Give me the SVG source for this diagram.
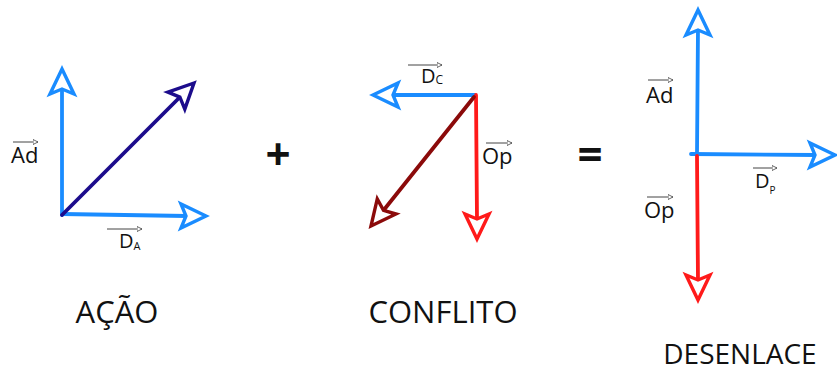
<svg xmlns="http://www.w3.org/2000/svg" width="837" height="372" viewBox="0 0 837 372">
<style>
.vec{fill:none;stroke-linecap:round;stroke-width:3.8}
.head{fill:#fff;stroke:currentColor;stroke-width:3.4;stroke-linejoin:miter}
.lbl{font-family:"Open Sans","Liberation Sans",sans-serif;fill:#111}
.big{font-family:"Open Sans","Liberation Sans",sans-serif;fill:#111;text-anchor:middle}
.ov{stroke:#444;stroke-width:1;fill:none}
.blue{color:#1a8cff;stroke:#1a8cff}
.navy{color:#1c0c8c;stroke:#1c0c8c}
.red{color:#ff1a1a;stroke:#ff1a1a}
.dred{color:#8b0a0a;stroke:#8b0a0a}
</style>
<defs>
<path id="ah" d="M0,0 L-25,-12 L-20,0 L-25,12 Z"/>
<marker id="sm" markerWidth="6" markerHeight="6" refX="5" refY="3" orient="auto" markerUnits="userSpaceOnUse"><path d="M0,0.5 L5,3 L0,5.5 Z" fill="#fff" stroke="#444" stroke-width="0.8"/></marker>
</defs>
<rect width="837" height="372" fill="#fff"/>
<g id="connectors">
<line class="vec blue" x1="62" y1="215" x2="62" y2="88"/>
<use href="#ah" class="head blue" transform="translate(62,69) rotate(-90)"/>
<line class="vec blue" x1="62" y1="214" x2="187" y2="216"/>
<use href="#ah" class="head blue" transform="translate(206,216)"/>
<line class="vec navy" x1="62" y1="215" x2="180" y2="97"/>
<use href="#ah" class="head navy" transform="translate(194,83) rotate(-45)"/>
<line class="vec blue" x1="475" y1="95" x2="392" y2="95"/>
<use href="#ah" class="head blue" transform="translate(373,95) rotate(180)"/>
<line class="vec red" x1="476" y1="95" x2="477" y2="220"/>
<use href="#ah" class="head red" transform="translate(477,239) rotate(90)"/>
<line class="vec dred" x1="474" y1="97" x2="383" y2="211"/>
<use href="#ah" class="head dred" transform="translate(371,226) rotate(128.7)"/>
<line class="vec blue" x1="697" y1="154" x2="698" y2="28"/>
<use href="#ah" class="head blue" transform="translate(698,10) rotate(-90)"/>
<line class="vec blue" x1="691" y1="154" x2="816" y2="155"/>
<use href="#ah" class="head blue" transform="translate(835,155)"/>
<line class="vec red" x1="697" y1="156" x2="698" y2="282"/>
<use href="#ah" class="head red" transform="translate(698,300) rotate(90)"/>
</g>
<g id="acao">
<line class="ov" x1="13" y1="142" x2="38" y2="142" marker-end="url(#sm)"/>
<text class="lbl" x="11" y="163" font-size="22">Ad</text>
<line class="ov" x1="107" y1="229" x2="142" y2="229" marker-end="url(#sm)"/>
<text class="lbl" x="119" y="248" font-size="20">D<tspan font-size="11" dy="2">A</tspan></text>
<text class="big" x="117" y="323" font-size="31">AÇÃO</text>
</g>
<g id="plus"><text class="big" x="278" y="170" font-size="44" font-weight="bold">+</text></g>
<g id="conflito">
<line class="ov" x1="408" y1="65" x2="442" y2="65" marker-end="url(#sm)"/>
<text class="lbl" x="421" y="83" font-size="20">D<tspan font-size="12" dy="1">C</tspan></text>
<line class="ov" x1="486" y1="143" x2="512" y2="143" marker-end="url(#sm)"/>
<text class="lbl" x="482" y="164" font-size="22">Op</text>
<text class="big" x="443" y="323" font-size="31">CONFLITO</text>
</g>
<g id="equals"><text class="big" x="590" y="170" font-size="44" font-weight="bold">=</text></g>
<g id="desenlace">
<line class="ov" x1="648" y1="80" x2="673" y2="80" marker-end="url(#sm)"/>
<text class="lbl" x="646" y="103" font-size="22">Ad</text>
<line class="ov" x1="753" y1="168" x2="777" y2="168" marker-end="url(#sm)"/>
<text class="lbl" x="755" y="188" font-size="20">D<tspan font-size="10" dy="6">P</tspan></text>
<line class="ov" x1="647" y1="197" x2="673" y2="197" marker-end="url(#sm)"/>
<text class="lbl" x="644" y="218" font-size="22">Op</text>
<text class="big" x="740" y="364" font-size="28">DESENLACE</text>
</g>
</svg>
